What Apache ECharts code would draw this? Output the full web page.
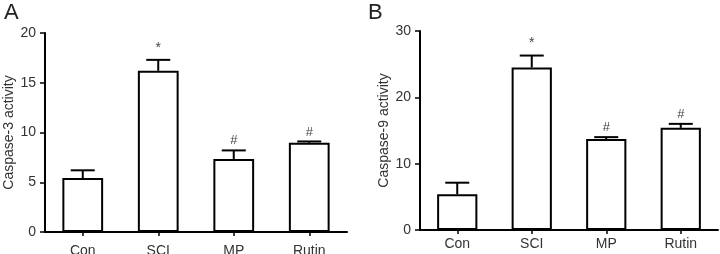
<!DOCTYPE html>
<html><head><meta charset="utf-8">
<script src="https://cdn.jsdelivr.net/npm/echarts@6/dist/echarts.min.js"></script>
<style>html,body{margin:0;padding:0;background:#fff}#c{width:720px;height:254px}</style>
</head><body><div id="c"></div>
<script>
var categories = ['Con', 'SCI', 'MP', 'Rutin'];
var casp3 = [5.43, 16.2, 7.34, 8.97];
var casp3Err = [6.2, 17.3, 8.2, 9.1];
var casp3Sig = ['', '*', '#', '#'];
var casp9 = [5.38, 24.5, 13.7, 15.4];
var casp9Err = [7.13, 26.3, 14.0, 16.0];
var casp9Sig = ['', '*', '#', '#'];
var ticksA = [0, 5, 10, 15, 20];
var ticksB = [0, 10, 20, 30];

var chart = echarts.init(document.getElementById('c'));
var FONT = 'Liberation Sans, Arial, sans-serif';
var TXT = '#333';

function errRender(sig) {
  return function (params, api) {
    var i = api.value(0);
    var base = api.coord([i, api.value(1)]);
    var top = api.coord([i, api.value(2)]);
    var half = 12;
    var children = [
      {type: 'line', shape: {x1: base[0], y1: base[1], x2: top[0], y2: top[1]}, style: {stroke: '#000', lineWidth: 2}},
      {type: 'line', shape: {x1: top[0] - half, y1: top[1], x2: top[0] + half, y2: top[1]}, style: {stroke: '#000', lineWidth: 2}}
    ];
    var s = sig[params.dataIndex];
    if (s) {
      children.push({type: 'text', style: {text: s, x: top[0], y: top[1] - (s === '*' ? 5 : 3), align: 'center', verticalAlign: 'bottom', fill: '#444', font: (s === '*' ? '14px ' : '13px ') + FONT}});
    }
    return {type: 'group', children: children};
  };
}

function xAxis(gi, margin) {
  return {
    type: 'category', gridIndex: gi, data: categories,
    axisLine: {lineStyle: {color: '#000', width: 2}},
    axisTick: {show: true, alignWithLabel: true, length: 4, lineStyle: {color: '#000', width: 1.5}},
    axisLabel: {color: TXT, fontSize: 14, fontFamily: FONT, margin: margin}
  };
}
function yAxis(gi, max, interval, name, gap) {
  return {
    type: 'value', gridIndex: gi, min: 0, max: max, interval: interval,
    name: name, nameLocation: 'middle', nameGap: gap, nameRotate: 90,
    nameTextStyle: {color: TXT, fontSize: 14, fontFamily: FONT},
    splitLine: {show: false},
    axisLine: {show: true, lineStyle: {color: '#000', width: 2}},
    axisTick: {show: true, length: 5, lineStyle: {color: '#000', width: 1.5}},
    axisLabel: {color: TXT, fontSize: 14, fontFamily: FONT, margin: 9}
  };
}
function barSeries(gi, data) {
  return {
    type: 'bar', xAxisIndex: gi, yAxisIndex: gi, data: data, barWidth: '54%',
    itemStyle: {color: '#fff', borderColor: '#000', borderWidth: 2}, z: 2, silent: true
  };
}
function errSeries(gi, vals, errs, sig) {
  return {
    type: 'custom', xAxisIndex: gi, yAxisIndex: gi, z: 3, silent: true,
    data: vals.map(function (v, i) { return [i, v, errs[i]]; }),
    renderItem: errRender(sig)
  };
}

chart.setOption({
  animation: false,
  backgroundColor: '#fff',
  title: [
    {text: 'A', left: -1, top: -3, textStyle: {fontSize: 22, fontWeight: 'normal', color: '#222', fontFamily: FONT}},
    {text: 'B', left: 363, top: -3, textStyle: {fontSize: 22, fontWeight: 'normal', color: '#222', fontFamily: FONT}}
  ],
  grid: [
    {left: 45, top: 33, width: 302, height: 199, containLabel: false, outerBoundsMode: 'none'},
    {left: 420, top: 31, width: 298, height: 199, containLabel: false, outerBoundsMode: 'none'}
  ],
  xAxis: [xAxis(0, 12), xAxis(1, 7)],
  yAxis: [yAxis(0, 20, 5, 'Caspase-3 activity', 29), yAxis(1, 30, 10, 'Caspase-9 activity', 28)],
  series: [
    barSeries(0, casp3), errSeries(0, casp3, casp3Err, casp3Sig),
    barSeries(1, casp9), errSeries(1, casp9, casp9Err, casp9Sig)
  ]
});
</script></body></html>
